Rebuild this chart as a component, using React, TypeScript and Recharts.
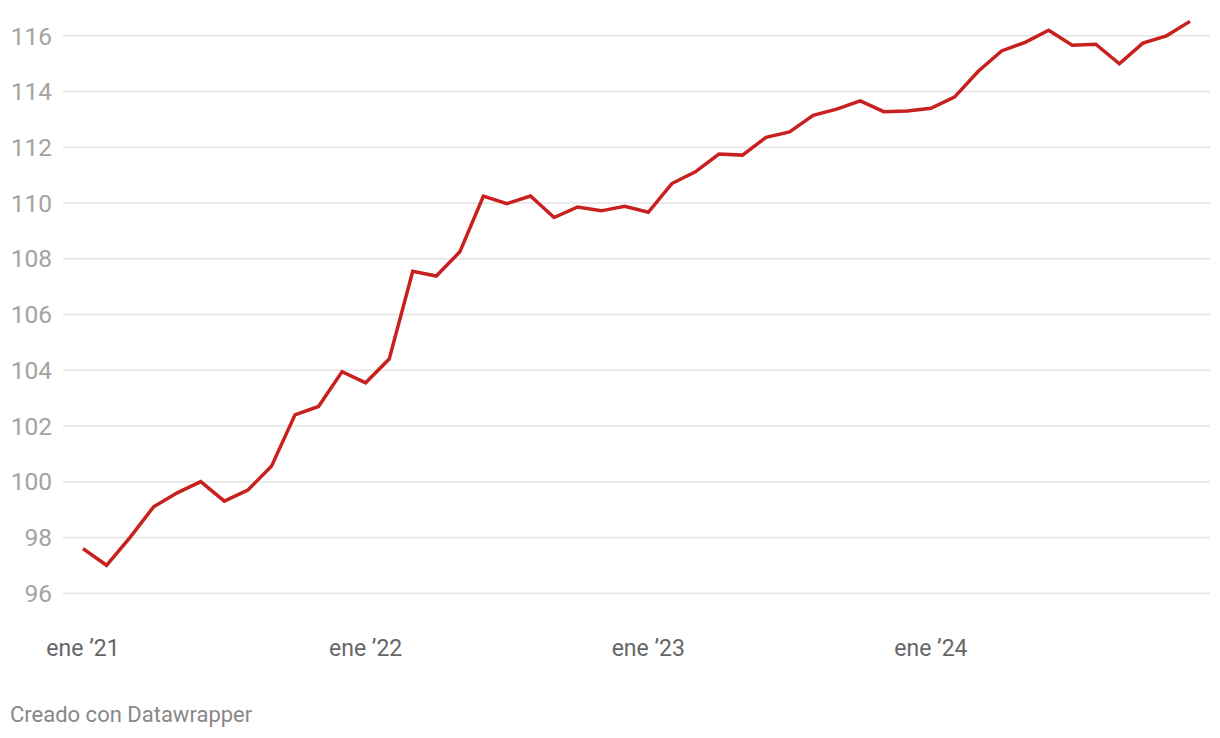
import React from 'react';
import { LineChart, Line, XAxis, YAxis, ReferenceLine } from 'recharts';

// monthly index, ene 2021 .. dic 2024
const months = [
  '2021-01', '2021-02', '2021-03', '2021-04', '2021-05', '2021-06',
  '2021-07', '2021-08', '2021-09', '2021-10', '2021-11', '2021-12',
  '2022-01', '2022-02', '2022-03', '2022-04', '2022-05', '2022-06',
  '2022-07', '2022-08', '2022-09', '2022-10', '2022-11', '2022-12',
  '2023-01', '2023-02', '2023-03', '2023-04', '2023-05', '2023-06',
  '2023-07', '2023-08', '2023-09', '2023-10', '2023-11', '2023-12',
  '2024-01', '2024-02', '2024-03', '2024-04', '2024-05', '2024-06',
  '2024-07', '2024-08', '2024-09', '2024-10', '2024-11', '2024-12'
];

const values = [
  97.6, 97.0, 98.0, 99.1, 99.6, 100.0, 99.3, 99.7, 100.55, 102.4, 102.7, 103.95,
  103.55, 104.4, 107.55, 107.38, 108.25, 110.25, 109.98, 110.25, 109.48, 109.86, 109.72, 109.88,
  109.67, 110.7, 111.12, 111.76, 111.72, 112.36, 112.55, 113.15, 113.37, 113.67, 113.28, 113.3,
  113.4, 113.8, 114.72, 115.46, 115.77, 116.2, 115.66, 115.7, 115.0, 115.74, 116.0, 116.52
];

const xTicks = [0, 12, 24, 36];
const xTickLabels = ['ene \u201921', 'ene \u201922', 'ene \u201923', 'ene \u201924'];
const yTicks = [96, 98, 100, 102, 104, 106, 108, 110, 112, 114, 116];

const data = months.map((m, i) => ({ idx: i, month: m, value: values[i] }));

const FONT = 'Roboto, "Noto Sans", sans-serif';

export default function App() {
  return (
    <div style={{ position: 'absolute', left: 0, top: 0, width: 1220, height: 738, background: '#fff', fontFamily: FONT }}>
      <LineChart
        width={1220}
        height={680}
        data={data}
        margin={{ top: 8, right: 10, left: 0, bottom: 0 }}
      >
        {/* gridlines only at the labelled ticks */}
        {yTicks.map((t) => (
          <ReferenceLine key={`grid-${t}`} y={t} stroke="#e3e3e3" strokeWidth={1.5} />
        ))}
        <XAxis
          dataKey="idx"
          type="number"
          domain={[0, 47]}
          ticks={xTicks}
          tickFormatter={(v: number) => xTickLabels[xTicks.indexOf(v)] ?? ''}
          axisLine={false}
          tickLine={false}
          tickMargin={13}
          height={59}
          padding={{ left: 20, right: 20 }}
          tick={{ fontSize: 23, fill: '#666666', fontFamily: FONT }}
          interval={0}
        />
        <YAxis
          domain={[95, 117]}
          ticks={yTicks}
          axisLine={false}
          tickLine={false}
          tickMargin={5}
          width={63}
          tick={{ fontSize: 24.5, fill: '#a3a3a3', fontFamily: FONT }}
          interval={0}
        />
        <Line
          type="linear"
          dataKey="value"
          stroke="#c8201e"
          strokeWidth={3.5}
          dot={false}
          activeDot={false}
          isAnimationActive={false}
        />
      </LineChart>
      <div style={{ position: 'absolute', left: 10, top: 702, fontSize: 22, color: '#888888', fontFamily: FONT }}>
        Creado con Datawrapper
      </div>
    </div>
  );
}
